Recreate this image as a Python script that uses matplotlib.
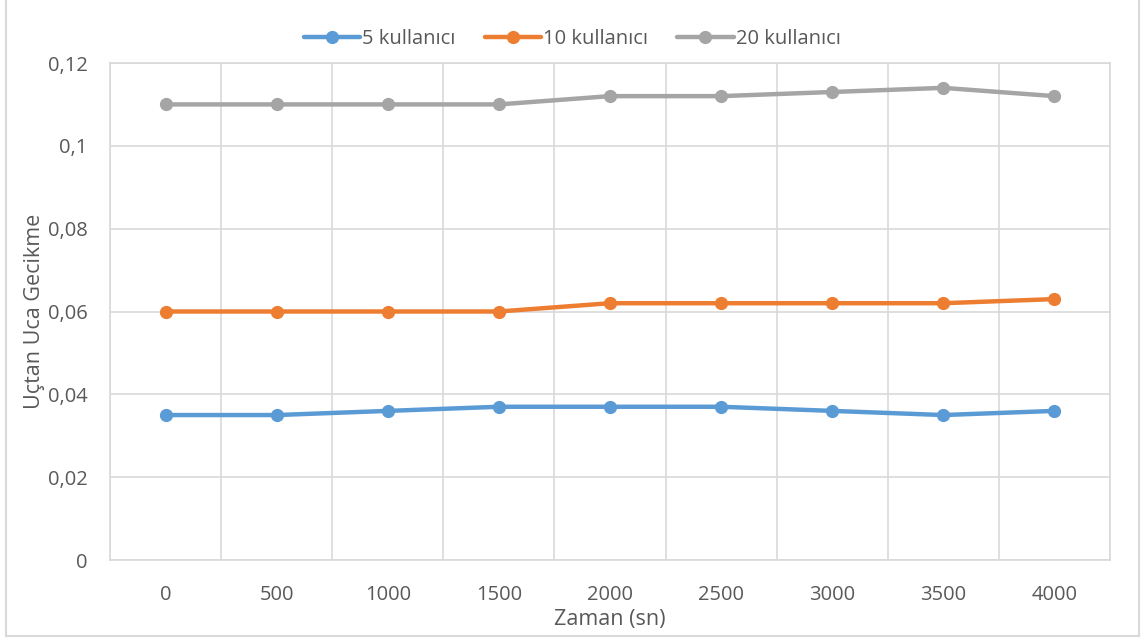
import numpy as np
import matplotlib.pyplot as plt
from matplotlib.lines import Line2D

plt.rcParams['font.family'] = ['Open Sans', 'DejaVu Sans']

# zaman adimlari (sn) ve uctan uca gecikme degerleri
zaman = [0, 500, 1000, 1500, 2000, 2500, 3000, 3500, 4000]
k5 = [0.035, 0.035, 0.036, 0.037, 0.037, 0.037, 0.036, 0.035, 0.036]
k10 = [0.060, 0.060, 0.060, 0.060, 0.062, 0.062, 0.062, 0.062, 0.063]
k20 = [0.110, 0.110, 0.110, 0.110, 0.112, 0.112, 0.113, 0.114, 0.112]

seriler = [("5 kullanıcı", k5, "#5B9BD5"),
           ("10 kullanıcı", k10, "#ED7D31"),
           ("20 kullanıcı", k20, "#A5A5A5")]

yazi = "#595959"
izgara = "#D9D9D9"

fig = plt.figure(figsize=(11.44, 6.4), dpi=100)
ax = fig.add_axes([110/1144, 80/640, 1000/1144, 497/640])

x = np.arange(len(zaman))
for ad, y, renk in seriler:
    ax.plot(x, y, color=renk, lw=3.2, marker="o", ms=8.5, label=ad,
            solid_capstyle="round", zorder=3)

ax.set_xlim(-0.5, len(zaman) - 0.5)
ax.set_ylim(0, 0.12)
ax.set_yticks(np.arange(0, 0.121, 0.02))
ax.set_yticklabels(["0", "0,02", "0,04", "0,06", "0,08", "0,1", "0,12"])
ax.set_xticks(x)
ax.set_xticklabels([str(z) for z in zaman])
ax.set_xticks(np.arange(-0.5, len(zaman)), minor=True)

ax.grid(False)
ax.yaxis.grid(True, color=izgara, lw=1.2)
ax.xaxis.grid(True, which="minor", color=izgara, lw=1.2)
for s in ax.spines.values():
    s.set_color(izgara)
    s.set_linewidth(1.2)

ax.tick_params(axis="both", which="both", length=0, colors=yazi, labelsize=14.5)
ax.tick_params(axis="y", pad=16)
ax.tick_params(axis="x", pad=18)

ax.set_xlabel("Zaman (sn)", color=yazi, fontsize=15.5, labelpad=3)
ax.set_ylabel("Uçtan Uca Gecikme", color=yazi, fontsize=15.5, labelpad=2)

# lejant grafigin ortasina gore ustte
fig.legend(*ax.get_legend_handles_labels(), loc="center",
           bbox_to_anchor=(0.5, 1 - 39/640), ncol=3, frameon=False,
           fontsize=14.5, labelcolor=yazi, handlelength=2.8, handletextpad=0.1,
           columnspacing=1.45)

# grafik alaninin cercevesi
fig.add_artist(Line2D([6/1144, 6/1144], [4/640, 1], color=izgara, lw=1.5))
fig.add_artist(Line2D([1139/1144, 1139/1144], [4/640, 1], color=izgara, lw=1.5))
fig.add_artist(Line2D([6/1144, 1139/1144], [4/640, 4/640], color=izgara, lw=1.5))

fig.savefig("out.png", dpi=100)
